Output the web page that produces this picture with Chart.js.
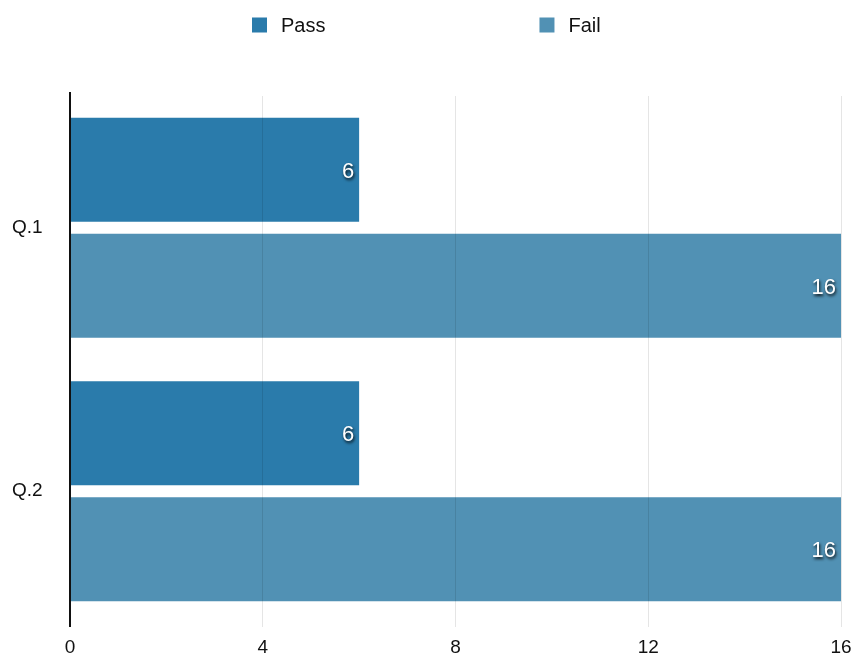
<!DOCTYPE html>
<html>
<head>
<meta charset="utf-8">
<script src="https://cdn.jsdelivr.net/npm/chart.js@4/dist/chart.umd.min.js"></script>
<style>
  html, body { margin: 0; padding: 0; background: #fff; }
  #wrap { width: 857px; height: 655px; position: relative; }
</style>
</head>
<body>
<div id="wrap"><canvas id="chart"></canvas></div>
<script>
// Questions and result counts
const categories = ['Q.1', 'Q.2'];
const passCounts = [6, 6];
const failCounts = [16, 16];
const xTicks = [0, 4, 8, 12, 16];

const seriesNames = ['Pass', 'Fail'];
const seriesColors = ['#2a7bab', '#5191b4'];

const FONT = '"Liberation Sans", Arial, Helvetica, sans-serif';

// Legend drawn in the top band, items spread apart and centered
const spreadLegend = {
  id: 'spreadLegend',
  afterDraw(chart) {
    const ctx = chart.ctx;
    ctx.save();
    ctx.font = '20px ' + FONT;
    const box = 15, gapText = 14, gapItems = 214;
    const items = chart.data.datasets.map(ds => ({
      label: ds.label, color: ds.backgroundColor,
      w: box + gapText + ctx.measureText(ds.label).width
    }));
    const total = items.reduce((s, it) => s + it.w, 0) + gapItems * (items.length - 1);
    let x = Math.round(chart.width / 2 - total / 2) - 2;
    const cy = 25;
    items.forEach(it => {
      ctx.fillStyle = it.color;
      ctx.fillRect(x, cy - box / 2, box, box);
      ctx.fillStyle = '#111';
      ctx.textBaseline = 'middle';
      ctx.textAlign = 'left';
      ctx.fillText(it.label, x + box + gapText, cy + 1);
      x += it.w + gapItems;
    });
    ctx.restore();
  }
};

// Vertical axis line, running a little past the plot area at both ends
const axisLine = {
  id: 'axisLine',
  afterDraw(chart) {
    const { ctx, chartArea } = chart;
    const x0 = chart.scales.x.getPixelForValue(0);
    ctx.save();
    ctx.strokeStyle = '#111';
    ctx.lineWidth = 2;
    ctx.beginPath();
    ctx.moveTo(x0, chartArea.top - 4);
    ctx.lineTo(x0, chartArea.bottom + 4);
    ctx.stroke();
    ctx.restore();
  }
};

// Value labels inside the end of each bar
const barValues = {
  id: 'barValues',
  afterDatasetsDraw(chart) {
    const ctx = chart.ctx;
    ctx.save();
    ctx.font = '22px ' + FONT;
    ctx.textAlign = 'right';
    ctx.textBaseline = 'middle';
    ctx.shadowColor = 'rgba(0,0,0,0.9)';
    ctx.shadowOffsetX = 1;
    ctx.shadowOffsetY = 2;
    ctx.shadowBlur = 3;
    ctx.fillStyle = '#fff';
    chart.data.datasets.forEach((ds, di) => {
      chart.getDatasetMeta(di).data.forEach((bar, i) => {
        ctx.fillText(String(ds.data[i]), bar.x - 5, bar.y + 2);
      });
    });
    ctx.restore();
  }
};

new Chart(document.getElementById('chart'), {
  type: 'bar',
  data: {
    labels: categories,
    datasets: [
      { label: seriesNames[0], data: passCounts, backgroundColor: seriesColors[0] },
      { label: seriesNames[1], data: failCounts, backgroundColor: seriesColors[1] }
    ]
  },
  options: {
    indexAxis: 'y',
    responsive: true,
    maintainAspectRatio: false,
    animation: false,
    categoryPercentage: 0.88,
    barPercentage: 0.897,
    layout: { padding: { top: 96, right: 16, left: 12, bottom: 0 } },
    plugins: {
      legend: { display: false },
      tooltip: { enabled: false }
    },
    scales: {
      x: {
        min: 0, max: 16,
        afterBuildTicks(scale) { scale.ticks = xTicks.map(v => ({ value: v })); },
        afterFit(scale) {
          scale.height = 32;
          scale.paddingLeft = 0;
          scale.paddingRight = 0;
        },
        grid: { color: 'rgba(0,0,0,0.1)', lineWidth: 1, drawTicks: true, tickLength: 4, z: 1 },
        border: { display: false },
        ticks: { color: '#111', font: { family: FONT, size: 19 }, padding: 9 }
      },
      y: {
        afterFit(scale) { scale.width = 58; },
        grid: { display: false, drawTicks: false },
        border: { display: false },
        ticks: { color: '#111', crossAlign: 'far', font: { family: FONT, size: 19 }, padding: 0 }
      }
    }
  },
  plugins: [spreadLegend, barValues, axisLine]
});
</script>
</body>
</html>
